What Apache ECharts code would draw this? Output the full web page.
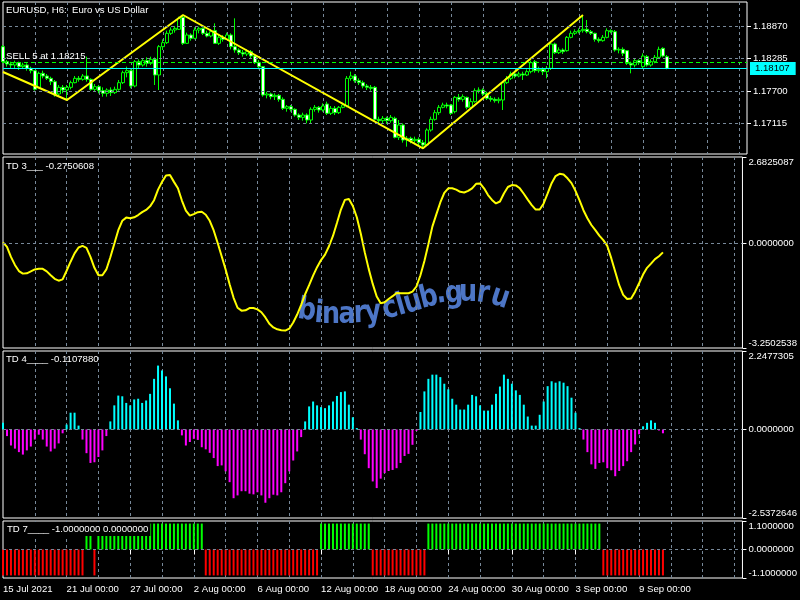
<!DOCTYPE html>
<html><head><meta charset="utf-8">
<script src="https://cdn.jsdelivr.net/npm/echarts@6/dist/echarts.min.js"></script>
<style>html,body{margin:0;padding:0;background:#000}#c{width:800px;height:600px}</style>
</head><body><div id="c"></div>
<script>
// ---------- DATA ----------
// EURUSD H6 candles: [open, close, low, high]
const candles = [
[1.18498,1.18228,1.18198,1.18528],[1.18228,1.18186,1.18138,1.18258],[1.18186,1.18168,1.18108,1.18228],[1.18168,1.18210,1.18108,1.18246],[1.18210,1.18138,1.18078,1.18228],
[1.18138,1.18168,1.18108,1.18210],[1.18168,1.18108,1.18066,1.18198],[1.18108,1.18066,1.18018,1.18138],[1.18066,1.17730,1.17706,1.18078],[1.17766,1.18018,1.17748,1.18048],
[1.18018,1.17970,1.17928,1.18066],[1.17970,1.17928,1.17898,1.18006],[1.17928,1.17868,1.17808,1.17958],[1.17868,1.17628,1.17598,1.17898],[1.17646,1.17766,1.17610,1.17808],
[1.17766,1.17718,1.17658,1.17808],[1.17718,1.17766,1.17538,1.17808],[1.17766,1.17850,1.17730,1.17886],[1.17850,1.17928,1.17838,1.17970],[1.17928,1.17910,1.17868,1.17970],
[1.17910,1.17970,1.17886,1.18006],[1.17970,1.17910,1.17868,1.18318],[1.17910,1.17730,1.17706,1.17928],[1.17730,1.17778,1.17688,1.17826],[1.17778,1.17706,1.17658,1.17808],
[1.17706,1.17658,1.17598,1.17766],[1.17658,1.17718,1.17598,1.17748],[1.17718,1.17670,1.17610,1.17766],[1.17670,1.17730,1.17646,1.17778],[1.17730,1.17850,1.17706,1.17898],
[1.17850,1.18030,1.17826,1.18066],[1.18030,1.18066,1.17946,1.18138],[1.18066,1.17790,1.17748,1.18090],[1.17790,1.18228,1.17766,1.18258],[1.18228,1.18168,1.18108,1.18270],
[1.18168,1.18246,1.18138,1.18288],[1.18246,1.18198,1.18138,1.18306],[1.18198,1.18270,1.18168,1.18318],[1.18270,1.17988,1.17808,1.18306],[1.17988,1.18498,1.17718,1.18528],
[1.18498,1.18570,1.18438,1.18630],[1.18570,1.18738,1.18546,1.18786],[1.18738,1.18798,1.18708,1.18846],[1.18798,1.18828,1.18750,1.18870],[1.18810,1.19008,1.18798,1.19038],
[1.19026,1.18558,1.18528,1.19068],[1.18558,1.18708,1.18546,1.18750],[1.18708,1.18648,1.18606,1.18738],[1.18648,1.18798,1.18630,1.18846],[1.18798,1.18828,1.18738,1.18858],
[1.18828,1.18738,1.18708,1.18846],[1.18738,1.18690,1.18666,1.18786],[1.18690,1.18768,1.18666,1.18810],[1.18786,1.18558,1.18546,1.18918],[1.18558,1.18666,1.18528,1.18708],
[1.18666,1.18630,1.18588,1.18708],[1.18630,1.18708,1.18618,1.18750],[1.18708,1.18498,1.18450,1.18738],[1.18498,1.18438,1.18390,1.19008],[1.18438,1.18390,1.18348,1.18468],
[1.18390,1.18366,1.18318,1.18438],[1.18366,1.18408,1.18330,1.18450],[1.18408,1.18330,1.18288,1.18438],[1.18330,1.18210,1.18186,1.18348],[1.18210,1.18138,1.18090,1.18258],
[1.18138,1.17628,1.17598,1.18150],[1.17628,1.17646,1.17568,1.17688],[1.17646,1.17598,1.17550,1.17670],[1.17598,1.17622,1.17538,1.17658],[1.17622,1.17550,1.17508,1.17646],
[1.17550,1.17388,1.17358,1.17586],[1.17388,1.17418,1.17328,1.17448],[1.17418,1.17370,1.17328,1.17448],[1.17370,1.17268,1.17238,1.17388],[1.17268,1.17226,1.17178,1.17298],
[1.17226,1.17268,1.17166,1.17310],[1.17268,1.17178,1.17118,1.17298],[1.17178,1.17370,1.17106,1.17406],[1.17370,1.17406,1.17328,1.17448],[1.17406,1.17358,1.17310,1.17430],
[1.17358,1.17430,1.17328,1.17478],[1.17466,1.17298,1.17268,1.17508],[1.17298,1.17388,1.17268,1.17430],[1.17388,1.17310,1.17268,1.17430],[1.17310,1.17406,1.17286,1.17430],
[1.17406,1.17448,1.17388,1.17490],[1.17430,1.17928,1.17406,1.17970],[1.17928,1.17970,1.17886,1.18048],[1.17970,1.17886,1.17850,1.18006],[1.17886,1.17850,1.17808,1.17928],
[1.17850,1.17790,1.17748,1.17886],[1.17790,1.17766,1.17718,1.17826],[1.17766,1.17748,1.17706,1.17808],[1.17766,1.17190,1.17166,1.17790],[1.17190,1.17166,1.17106,1.17238],
[1.17166,1.17208,1.17118,1.17250],[1.17208,1.17166,1.17106,1.17238],[1.17166,1.17226,1.17130,1.17268],[1.17208,1.16866,1.16848,1.17238],[1.16866,1.17088,1.16818,1.17178],
[1.17088,1.16818,1.16770,1.17118],[1.16818,1.16848,1.16698,1.16890],[1.16848,1.16806,1.16758,1.16878],[1.16806,1.16830,1.16770,1.16878],[1.16830,1.16770,1.16698,1.16866],
[1.16770,1.16728,1.16668,1.16818],[1.16728,1.16998,1.16710,1.17028],[1.16998,1.17190,1.16968,1.17238],[1.17190,1.17310,1.17166,1.17358],[1.17310,1.17406,1.17268,1.17448],
[1.17406,1.17448,1.17388,1.17490],[1.17448,1.17430,1.17388,1.17490],[1.17448,1.17298,1.17268,1.17466],[1.17328,1.17586,1.17298,1.17610],[1.17586,1.17550,1.17508,1.17646],
[1.17550,1.17598,1.17508,1.17640],[1.17586,1.17406,1.17370,1.17598],[1.17406,1.17508,1.17358,1.17568],[1.17508,1.17706,1.17490,1.17748],[1.17706,1.17718,1.17658,1.17766],
[1.17718,1.17646,1.17610,1.17748],[1.17658,1.17568,1.17538,1.17688],[1.17568,1.17550,1.17508,1.17610],[1.17550,1.17526,1.17490,1.17586],[1.17526,1.17550,1.17478,1.17586],
[1.17538,1.17850,1.17358,1.17868],[1.17850,1.17928,1.17826,1.17970],[1.17928,1.18006,1.17898,1.18048],[1.18006,1.17970,1.17928,1.18066],[1.17970,1.18006,1.17946,1.18048],
[1.18006,1.17988,1.17898,1.18048],[1.17988,1.18048,1.17970,1.18090],[1.18048,1.18210,1.18018,1.18246],[1.18228,1.18066,1.18030,1.18258],[1.18066,1.18090,1.18030,1.18138],
[1.18090,1.18048,1.17988,1.18126],[1.18048,1.18108,1.17928,1.18150],[1.18108,1.18546,1.18078,1.18570],[1.18546,1.18390,1.18366,1.18570],[1.18390,1.18438,1.18366,1.18486],
[1.18438,1.18408,1.18366,1.18468],[1.18426,1.18666,1.18408,1.18690],[1.18666,1.18738,1.18648,1.18786],[1.18738,1.18768,1.18708,1.18810],[1.18768,1.18786,1.18738,1.18828],
[1.18786,1.18810,1.18750,1.19068],[1.18810,1.18768,1.18738,1.18978],[1.18768,1.18738,1.18708,1.18798],[1.18738,1.18630,1.18588,1.18750],[1.18630,1.18606,1.18570,1.18666],
[1.18606,1.18666,1.18588,1.18708],[1.18666,1.18786,1.18648,1.18828],[1.18786,1.18768,1.18738,1.18810],[1.18768,1.18438,1.18408,1.18798],[1.18438,1.18450,1.18378,1.18486],
[1.18450,1.18378,1.18330,1.18486],[1.18426,1.18198,1.18168,1.18438],[1.18198,1.18168,1.18018,1.18228],[1.18168,1.18246,1.18126,1.18288],[1.18246,1.18210,1.18168,1.18270],
[1.18138,1.18330,1.18108,1.18378],[1.18318,1.18168,1.18138,1.18348],[1.18168,1.18228,1.18138,1.18270],[1.18228,1.18306,1.18198,1.18348],[1.18306,1.18450,1.18288,1.18498],
[1.18468,1.18330,1.18306,1.18486],[1.18318,1.18107,1.18090,1.18348]
];
// ZigZag pivots (bar index, price)
const zigzagIdx = [0, 16, 45, 105, 145];
const zigzagVal = [1.18042, 1.17538, 1.19068, 1.16668, 1.19068];
// TD 3 line
const td3 = [
0.03,-0.11,-0.42,-0.67,-0.86,-0.94,-0.93,-0.87,-0.81,-0.79,
-0.79,-0.87,-0.99,-1.10,-1.16,-1.12,-0.85,-0.57,-0.31,-0.13,
-0.08,-0.14,-0.42,-0.76,-0.99,-0.99,-0.81,-0.43,-0.01,0.41,
0.70,0.80,0.78,0.81,0.88,0.97,1.04,1.15,1.34,1.67,
1.91,2.11,2.12,1.91,1.71,1.33,1.02,0.86,0.91,0.97,
0.98,0.89,0.70,0.40,0.01,-0.40,-0.81,-1.27,-1.69,-2.00,
-2.09,-2.08,-2.01,-2.01,-2.05,-2.14,-2.30,-2.50,-2.61,-2.67,
-2.70,-2.71,-2.65,-2.46,-2.21,-1.91,-1.58,-1.30,-1.00,-0.74,
-0.52,-0.35,-0.09,0.23,0.63,1.05,1.35,1.38,1.16,0.81,
0.30,-0.28,-0.80,-1.26,-1.65,-1.86,-1.83,-1.73,-1.64,-1.54,
-1.55,-1.55,-1.55,-1.50,-1.34,-0.99,-0.55,-0.03,0.52,0.90,
1.27,1.57,1.71,1.71,1.67,1.60,1.58,1.63,1.71,1.85,
1.86,1.71,1.50,1.35,1.24,1.30,1.55,1.75,1.81,1.80,
1.71,1.54,1.36,1.19,1.05,1.05,1.24,1.55,1.87,2.09,
2.16,2.14,2.02,1.87,1.63,1.34,1.03,0.78,0.57,0.41,
0.24,0.10,-0.08,-0.46,-0.88,-1.30,-1.60,-1.73,-1.71,-1.50,
-1.24,-0.97,-0.76,-0.63,-0.49,-0.40,-0.28
];
// TD 4 histogram
const td4 = [
0.19,-0.19,-0.46,-0.55,-0.65,-0.72,-0.60,-0.49,-0.29,-0.15,
-0.29,-0.49,-0.63,-0.55,-0.40,-0.11,0.14,0.48,0.48,0.11,
-0.29,-0.68,-0.96,-0.94,-0.79,-0.60,-0.19,0.23,0.69,0.97,
0.95,0.76,0.69,0.86,0.88,0.76,0.83,1.02,1.45,1.83,
1.69,1.52,1.18,0.74,0.26,-0.17,-0.46,-0.36,-0.27,-0.30,
-0.51,-0.57,-0.67,-0.82,-1.05,-1.03,-1.20,-1.51,-1.97,-1.89,
-1.77,-1.77,-1.84,-1.86,-1.80,-1.89,-2.10,-1.97,-1.87,-1.89,
-1.80,-1.54,-1.20,-0.89,-0.63,-0.22,0.23,0.66,0.80,0.69,
0.64,0.61,0.69,0.80,0.96,1.07,1.09,0.71,0.35,0.04,
-0.29,-0.71,-1.11,-1.49,-1.68,-1.41,-1.25,-1.19,-1.16,-1.11,
-0.96,-0.76,-0.70,-0.44,-0.04,0.50,1.09,1.45,1.57,1.57,
1.50,1.31,1.15,0.88,0.71,0.57,0.57,0.71,0.99,0.95,
0.69,0.54,0.54,0.71,1.02,1.23,1.57,1.45,1.31,1.12,
0.99,0.71,0.37,0.11,0.11,0.42,0.80,1.24,1.38,1.34,
1.38,1.34,1.24,0.91,0.48,0.04,-0.29,-0.65,-1.00,-1.13,
-0.96,-0.94,-1.11,-1.17,-1.34,-1.19,-1.05,-0.91,-0.65,-0.43,
-0.14,0.09,0.19,0.26,0.19,-0.03,-0.11
];
// TD 7 state (+1 green / -1 red)
const td7 = [
-1,-1,-1,-1,-1,-1,-1,-1,-1,-1,-1,-1,-1,-1,-1,-1,-1,-1,-1,-1,-1,
1,1,-1,
1,1,1,1,1,1,1,1,1,1,1,1,1,1,1,1,1,1,1,1,1,1,1,1,1,1,1,
-1,-1,-1,-1,-1,-1,-1,-1,-1,-1,-1,-1,-1,-1,-1,-1,-1,-1,-1,-1,-1,-1,-1,-1,-1,-1,-1,-1,-1,
1,1,1,1,1,1,1,1,1,1,1,1,1,
-1,-1,-1,-1,-1,-1,-1,-1,-1,-1,-1,-1,-1,-1,
1,1,1,1,1,1,1,1,1,1,1,1,1,1,1,1,1,1,1,1,1,1,1,1,1,1,1,1,1,1,1,1,1,1,1,1,1,1,1,1,1,1,1,1,
-1,-1,-1,-1,-1,-1,-1,-1,-1,-1,-1,-1,-1,-1,-1,-1
];
const priceTicks = [1.17115, 1.17700, 1.18285, 1.18870];
const bidPrice = 1.18107;
const orderPrice = 1.18215;
const orderText = 'SELL 5 at 1.18215';
const td3Range = [-3.2502538, 2.6825087];
const td4Range = [-2.5372646, 2.2477305];
const td7Range = [-1.1, 1.1];
const priceRange = [1.16566, 1.19302];
const titleMain = 'EURUSD, H6:  Euro vs US Dollar';
const titleTD3 = 'TD 3___ -0.2750608';
const titleTD4 = 'TD 4____ -0.1107880';
const titleTD7 = 'TD 7____ -1.0000000 0.0000000';
const watermark = 'binaryclub.guru';

// ---------- BUILD ----------
const nBars = candles.length;
const nSlots = 187;
const MON = ['Jan','Feb','Mar','Apr','May','Jun','Jul','Aug','Sep','Oct','Nov','Dec'];
const times = [];
{ let t = Date.UTC(2021, 6, 15, 0, 0);
  while (times.length < nSlots) { const wd = new Date(t).getUTCDay(); if (wd !== 0 && wd !== 6) times.push(t); t += 6 * 3600 * 1000; } }
const pad = n => (n < 10 ? '0' : '') + n;
const catNames = times.map(t => new Date(t).toISOString());
function timeLabel(i) {
  const d = new Date(times[i]);
  const s = d.getUTCDate() + ' ' + MON[d.getUTCMonth()];
  return i === 0 ? s + ' ' + d.getUTCFullYear() : s + ' ' + pad(d.getUTCHours()) + ':' + pad(d.getUTCMinutes());
}
const FONT = '"Liberation Sans", Arial, sans-serif';
const FS = 9.6;
const GRID_C = '#778899';
const labelInt = i => i % 16 === 0 && i < nBars;
const gridInt = i => i % 8 === 0 && i > 0;

const zig = new Array(nBars).fill(null);
zigzagIdx.forEach((ix, k) => { zig[ix] = zigzagVal[k]; });

const grids = [
  {left: 3, width: 744, top: 2, height: 152},
  {left: 3, width: 744, top: 157, height: 191},
  {left: 3, width: 744, top: 351, height: 167},
  {left: 3, width: 744, top: 521, height: 57}
].map(g => Object.assign(g, {show: true, borderColor: '#ffffff', borderWidth: 1, backgroundColor: 'transparent', containLabel: false}));

const xAxes = [0,1,2,3].map(k => ({
  type: 'category', gridIndex: k, data: catNames, boundaryGap: false,
  axisLine: {show: false},
  axisTick: {show: k === 3, interval: labelInt, length: 5, lineStyle: {color: '#ffffff'}},
  axisLabel: {show: k === 3, interval: labelInt, formatter: (v, i) => timeLabel(i), align: 'left',
    color: '#ffffff', fontSize: FS, fontFamily: FONT, margin: 6},
  splitLine: {show: true, interval: gridInt, lineStyle: {color: GRID_C, type: [3, 3], width: 1}}
}));

function rangeAxis(k, range, digits) {
  const [mn, mx] = range;
  const vals = [mn, 0, mx];
  return {
    type: 'value', gridIndex: k, position: 'right', min: mn, max: mx,
    axisLine: {show: false}, splitLine: {show: false},
    axisTick: {show: true, customValues: vals, length: 4, lineStyle: {color: '#ffffff'}},
    axisLabel: {show: true, customValues: vals, margin: 6, color: '#ffffff', fontSize: FS, fontFamily: FONT,
      formatter: v => {
        const s = (Math.abs(v) < 1e-12 ? 0 : v).toFixed(digits);
        if (v === mx) return '{t|' + s + '}';
        if (v === mn) return '{b|' + s + '}';
        return s;
      },
      rich: {
        t: {padding: [10, 0, 0, 0], color: '#ffffff', fontSize: FS, fontFamily: FONT},
        b: {padding: [0, 0, 10, 0], color: '#ffffff', fontSize: FS, fontFamily: FONT}
      }}
  };
}
const yAxes = [
  {type: 'value', gridIndex: 0, position: 'right', min: priceRange[0], max: priceRange[1],
   axisLine: {show: false}, splitLine: {show: false},
   axisTick: {show: true, customValues: priceTicks, length: 4, lineStyle: {color: '#ffffff'}},
   axisLabel: {show: true, customValues: priceTicks, margin: 6, color: '#ffffff', fontSize: FS, fontFamily: FONT,
     formatter: v => v.toFixed(5)}},
  rangeAxis(1, td3Range, 7),
  rangeAxis(2, td4Range, 7),
  rangeAxis(3, td7Range, 7)
];

const dashed = {color: GRID_C, type: [3, 3], width: 1};
function gridHost(k, values) {
  return {type: 'line', xAxisIndex: k, yAxisIndex: k, data: [], z: 1, silent: true,
    markLine: {symbol: ['none', 'none'], silent: true, animation: false, precision: 7, label: {show: false},
      lineStyle: dashed, data: values.map(v => ({yAxis: v}))}};
}

const series = [
  gridHost(0, priceTicks), gridHost(1, [0]), gridHost(2, [0]), gridHost(3, [0]),
  {type: 'candlestick', xAxisIndex: 0, yAxisIndex: 0, data: candles, barWidth: 3, z: 3,
   itemStyle: {color: '#000000', color0: '#ffffff', borderColor: '#00ff00', borderColor0: '#00ff00', borderWidth: 1},
   markLine: {symbol: ['none', 'none'], silent: true, animation: false, precision: 7, data: [
     {yAxis: orderPrice, lineStyle: {color: '#00ff00', type: [4, 3], width: 1},
      label: {show: true, position: 'insideStartTop', formatter: orderText, color: '#ffffff', fontSize: FS, fontFamily: FONT, distance: [3, 1]}},
     {yAxis: bidPrice, lineStyle: {color: '#00ffff', type: 'solid', width: 1},
      label: {show: true, position: 'end', formatter: bidPrice.toFixed(5), color: '#000000', backgroundColor: '#00ffff',
        padding: [2, 6, 1, 5], fontSize: FS, fontFamily: FONT, distance: 3}}
   ]}},
  {type: 'line', xAxisIndex: 0, yAxisIndex: 0, data: zig, connectNulls: true, showSymbol: false, symbol: 'none', z: 4,
   lineStyle: {color: '#ffff00', width: 2}},
  {type: 'line', xAxisIndex: 1, yAxisIndex: 1, data: td3, showSymbol: false, symbol: 'none', z: 3,
   lineStyle: {color: '#ffff00', width: 2}},
  {type: 'bar', xAxisIndex: 2, yAxisIndex: 2, data: td4.map(v => v >= 0 ? v : null), barWidth: 2, barGap: '-100%', z: 3,
   itemStyle: {color: '#00ffff'}},
  {type: 'bar', xAxisIndex: 2, yAxisIndex: 2, data: td4.map(v => v < 0 ? v : null), barWidth: 2, barGap: '-100%', z: 3,
   itemStyle: {color: '#ff00ff'}},
  {type: 'bar', xAxisIndex: 3, yAxisIndex: 3, data: td7.map(v => v > 0 ? v : null), barWidth: 2, barGap: '-100%', z: 3,
   itemStyle: {color: '#00ff00'}},
  {type: 'bar', xAxisIndex: 3, yAxisIndex: 3, data: td7.map(v => v < 0 ? v : null), barWidth: 2, barGap: '-100%', z: 3,
   itemStyle: {color: '#ff0000'}}
];

// watermark glyph layout along its wave
const wmX = [307, 319, 331, 347, 360, 373, 390, 401, 413, 429, 441, 454, 468, 483, 500];
const wmBase = [320, 323, 324, 324, 323, 322, 318, 315, 312, 307, 303, 303, 302, 303, 307];
const wmRot = [-8, -5, 0, 0, 2, 5, 14, 16, 16, 14, 8, 4, 0, -8, -18];
const wmChars = watermark.split('').map((ch, k) => ({
  type: 'text', x: wmX[k], y: wmBase[k] - 9, rotation: wmRot[k] * Math.PI / 180, scaleX: 0.82, z: 0, silent: true,
  style: {text: ch, fill: '#4d76c6', font: 'bold 31px "DejaVu Sans", sans-serif', align: 'center', verticalAlign: 'middle'}
}));

function txt(x, y, s, bg) {
  const st = {text: s, fill: '#ffffff', fontSize: FS, fontFamily: FONT, align: 'left', verticalAlign: 'middle'};
  if (bg) { st.backgroundColor = '#000000'; st.padding = [2, 2, 2, 2]; }
  return {type: 'text', x: x, y: y, z: 50, silent: true, style: st};
}

const chart = echarts.init(document.getElementById('c'), null, {renderer: 'canvas'});
chart.setOption({
  backgroundColor: '#000000',
  animation: false,
  grid: grids, xAxis: xAxes, yAxis: yAxes, series: series,
  graphic: [
    ...wmChars,
    txt(6, 10, titleMain, false),
    txt(6, 166, titleTD3, false),
    txt(6, 359, titleTD4, false),
    txt(5, 529, titleTD7, true)
  ]
});
</script>
</body></html>
